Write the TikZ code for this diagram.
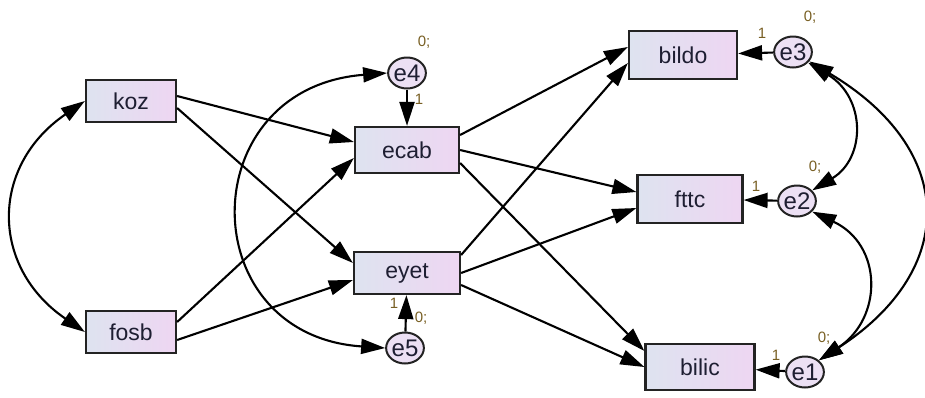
\documentclass[tikz,border=0pt]{standalone}
\usepackage{fontspec}
\setmainfont{Liberation Sans}
\usetikzlibrary{arrows.meta,shapes.geometric}
\definecolor{boxleft}{RGB}{222,227,240}
\definecolor{boxright}{RGB}{238,214,242}
\definecolor{ellfill}{RGB}{236,224,244}
\definecolor{edgecol}{RGB}{35,35,35}
\definecolor{txtcol}{RGB}{30,30,50}
\definecolor{lblcol}{RGB}{120,95,35}
\tikzset{
  obs/.style={draw=edgecol, line width=2.2pt, left color=boxleft, right color=boxright,
    minimum width=#1, minimum height=46pt, inner sep=0pt, text=txtcol,
    font=\fontsize{23}{23}\selectfont},
  err/.style={ellipse, draw=edgecol, line width=2pt, fill=ellfill, minimum width=36pt,
    minimum height=31pt, inner sep=0pt, text=txtcol, font=\fontsize{24}{24}\selectfont},
  path/.style={draw=black, line width=2.1pt, -{Triangle[length=24pt,width=15pt]}},
  cov/.style={draw=black, line width=2.1pt, {Triangle[length=24pt,width=15pt]}-{Triangle[length=24pt,width=15pt]}},
  lbl/.style={text=lblcol, font=\fontsize{15}{15}\selectfont, inner sep=0pt}
}
\begin{document}
\begin{tikzpicture}[x=1pt,y=-1pt]
\useasboundingbox (0,0) rectangle (925,397);
% observed boxes
\node[obs=90pt, minimum height=42pt] (koz) at (131,101) {koz};
\node[obs=90pt, minimum height=42pt] (fosb) at (131,332) {fosb};
\node[obs=104pt] (ecab) at (407,150) {ecab};
\node[obs=106pt, minimum height=42pt] (eyet) at (407,273) {eyet};
\node[obs=108pt, minimum height=48pt] (bildo) at (683,55) {bildo};
\node[obs=105pt, minimum height=48pt] (fttc) at (690,199) {fttc};
\node[obs=109pt] (bilic) at (700,367) {bilic};
% error terms
\node[err] (e4) at (407,73) {e4};
\node[err] (e5) at (405,348) {e5};
\node[err] (e3) at (793,52) {e3};
\node[err] (e2) at (797,201) {e2};
\node[err] (e1) at (805,372) {e1};
% labels
\node[lbl] (l4a) at (424,42) {0;};
\node[lbl] (l4b) at (419,99) {1};
\node[lbl] (l5a) at (394,303) {1};
\node[lbl] (l5b) at (421,318) {0;};
\node[lbl] (l3a) at (810,17) {0;};
\node[lbl] (l3b) at (762,33) {1};
\node[lbl] (l2a) at (815,167) {0;};
\node[lbl] (l2b) at (756,186) {1};
\node[lbl] (l1a) at (824,338) {0;};
\node[lbl] (l1b) at (776,355) {1};
% structural paths
\draw[path] ([yshift=5pt]koz.east) -- ([yshift=8pt]ecab.west);
\draw[path] ([yshift=-7pt]koz.east) -- ([yshift=10pt]eyet.west);
\draw[path] ([yshift=10pt]fosb.east) -- ([yshift=-8pt]ecab.west);
\draw[path] ([yshift=-8pt]fosb.east) -- ([yshift=-7pt]eyet.west);
\draw[path] ([yshift=15pt]ecab.east) -- ([yshift=8pt]bildo.west);
\draw[path] (ecab.east) -- ([yshift=7pt]fttc.west);
\draw[path] ([yshift=-13pt]ecab.east) -- ([yshift=16pt]bilic.west);
\draw[path] ([yshift=18pt]eyet.east) -- ([yshift=-8pt]bildo.west);
\draw[path] (eyet.east) -- ([yshift=-9pt]fttc.west);
\draw[path] ([yshift=-12pt]eyet.east) -- (bilic.west);
% error paths
\draw[path] (e4) -- (ecab);
\draw[path] (e5) -- (eyet);
\draw[path] (e3) -- (bildo);
\draw[path] (e2) -- (fttc);
\draw[path] (e1) -- (bilic);
% covariances
\draw[cov] (koz.west) .. controls (-10,166) and (-10,267) .. (fosb.west);
\draw[cov] (e4.west) .. controls (192,88) and (192,335) .. (e5.west);
\draw[cov] (e3.-35) .. controls (866,98) and (866,158) .. (e2.35);
\draw[cov] (e2.-35) .. controls (883,245) and (883,318) .. (e1.40);
\draw[cov] (e3.-30) .. controls (958,150) and (958,270) .. (e1.40);
\end{tikzpicture}
\end{document}
